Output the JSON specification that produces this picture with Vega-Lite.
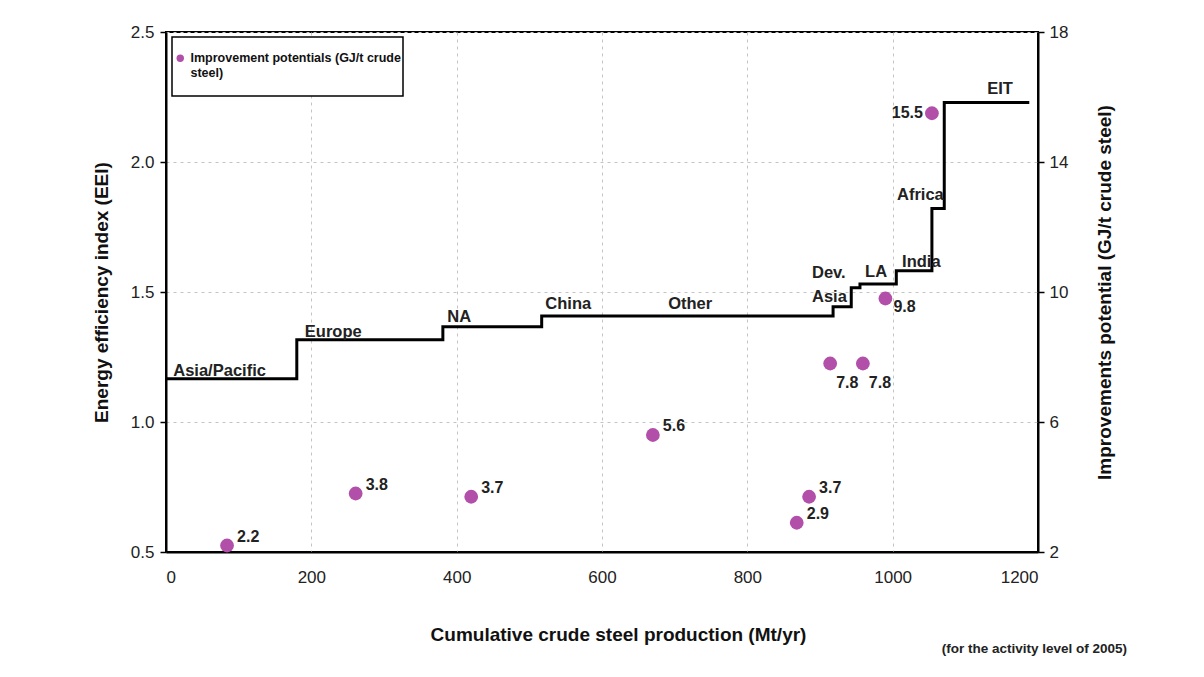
{
  "$schema": "https://vega.github.io/schema/vega-lite/v6.json",
  "width": 872,
  "height": 520,
  "autosize": {"type": "none"},
  "padding": {"left": 166, "top": 32, "right": 166, "bottom": 125},
  "background": "white",
  "config": {
    "view": {"stroke": "black", "strokeWidth": 2},
    "font": "Liberation Sans",
    "legend": {"strokeWidth": 1.5},
    "axis": {
      "labelFont": "Liberation Sans",
      "labelFontSize": 17,
      "labelColor": "#222222",
      "titleFont": "Liberation Sans",
      "titleFontSize": 19,
      "titleFontWeight": "bold",
      "titleColor": "#111111",
      "domainColor": "black",
      "domainWidth": 2,
      "tickColor": "black",
      "tickWidth": 1.5,
      "gridColor": "#c4c4c4",
      "gridDash": [3, 4],
      "gridWidth": 1
    }
  },
  "title": {
    "text": "(for the activity level of 2005)",
    "orient": "bottom",
    "anchor": "end",
    "frame": "group",
    "dx": 89,
    "offset": -2,
    "font": "Liberation Sans",
    "fontSize": 13.5,
    "fontWeight": "bold",
    "color": "#222222"
  },
  "datasets": {
    "steps": [
      {"mt": 0, "eei": 1.166},
      {"mt": 180, "eei": 1.316},
      {"mt": 381, "eei": 1.366},
      {"mt": 517, "eei": 1.408},
      {"mt": 918, "eei": 1.443},
      {"mt": 943, "eei": 1.516},
      {"mt": 955, "eei": 1.531},
      {"mt": 1005, "eei": 1.582},
      {"mt": 1054, "eei": 1.821},
      {"mt": 1071, "eei": 2.229},
      {"mt": 1188, "eei": 2.229}
    ],
    "regions": [
      {"region": "Asia/Pacific", "mt": 10, "eei": 1.197},
      {"region": "Europe", "mt": 191, "eei": 1.347},
      {"region": "NA", "mt": 387, "eei": 1.405},
      {"region": "China", "mt": 522, "eei": 1.455},
      {"region": "Other", "mt": 691, "eei": 1.455},
      {"region": "Dev.", "mt": 889, "eei": 1.574},
      {"region": "Asia", "mt": 889, "eei": 1.482},
      {"region": "LA", "mt": 962, "eei": 1.578},
      {"region": "India", "mt": 1013, "eei": 1.617},
      {"region": "Africa", "mt": 1006, "eei": 1.874},
      {"region": "EIT", "mt": 1130, "eei": 2.279}
    ],
    "potentials": [
      {"mt": 84, "gj": 2.2},
      {"mt": 261, "gj": 3.8},
      {"mt": 420, "gj": 3.7},
      {"mt": 670, "gj": 5.6},
      {"mt": 868, "gj": 2.9},
      {"mt": 885, "gj": 3.7},
      {"mt": 914, "gj": 7.8},
      {"mt": 959, "gj": 7.8},
      {"mt": 990, "gj": 9.8},
      {"mt": 1054, "gj": 15.5}
    ]
  },
  "layer": [
    {
      "layer": [
        {
          "data": {"name": "steps"},
          "mark": {"type": "line", "interpolate": "step-after", "color": "black", "strokeWidth": 3},
          "encoding": {
            "x": {
              "field": "mt", "type": "quantitative",
              "scale": {"domain": [0, 1200], "nice": false},
              "axis": {
                "values": [0, 200, 400, 600, 800, 1000, 1200],
                "format": "d",
                "ticks": false,
                "labelPadding": 17,
                "grid": true,
                "domain": true,
                "title": "Cumulative crude steel production (Mt/yr)",
                "titleX": 452,
                "titleY": 82,
                "titleBaseline": "middle",
                "titleAnchor": "middle"
              }
            },
            "y": {
              "field": "eei", "type": "quantitative",
              "scale": {"domain": [0.5, 2.5], "nice": false, "zero": false},
              "axis": {
                "orient": "left",
                "values": [0.5, 1.0, 1.5, 2.0, 2.5],
                "format": ".1f",
                "tickSize": 6,
                "labelPadding": 6,
                "grid": true,
                "title": "Energy efficiency index (EEI)",
                "titleX": -65,
                "titleY": 260,
                "titleAngle": -90,
                "titleAlign": "center",
                "titleBaseline": "middle"
              }
            }
          }
        },
        {
          "data": {"name": "regions"},
          "mark": {"type": "text", "align": "left", "baseline": "middle", "fontSize": 16.5, "fontWeight": "bold", "color": "#222222"},
          "encoding": {
            "x": {"field": "mt", "type": "quantitative"},
            "y": {"field": "eei", "type": "quantitative"},
            "text": {"field": "region"}
          }
        }
      ]
    },
    {
      "data": {"name": "potentials"},
      "layer": [
        {
          "mark": {"type": "circle", "size": 190, "opacity": 1},
          "encoding": {
            "x": {"field": "mt", "type": "quantitative"},
            "y": {
              "field": "gj", "type": "quantitative",
              "scale": {"domain": [2, 18], "nice": false, "zero": false},
              "axis": {
                "orient": "right",
                "values": [2, 6, 10, 14, 18],
                "tickSize": 6,
                "labelPadding": 5,
                "grid": false,
                "title": "Improvements potential (GJ/t crude steel)",
                "titleX": 66,
                "titleY": 260,
                "titleAngle": -90,
                "titleAlign": "center",
                "titleBaseline": "middle"
              }
            },
            "color": {
              "datum": "Improvement potentials (GJ/t crude steel)",
              "type": "nominal",
              "scale": {"range": ["#B14FA9"]},
              "legend": {
                "orient": "none",
                "legendX": 6,
                "legendY": 5,
                "title": " ",
                "titleFontSize": 8,
                "titlePadding": 5,
                "strokeColor": "black",
                "fillColor": "white",
                "padding": 2,
                "symbolType": "circle",
                "symbolSize": 55,
                "symbolStrokeWidth": 0,
                "labelFont": "Liberation Sans",
                "labelFontWeight": "bold",
                "labelFontSize": 12.5,
                "labelColor": "#111111",
                "labelLimit": 400,
                "labelOffset": 4,
                "labelBaseline": "middle",
                "labelExpr": "['Improvement potentials (GJ/t crude', 'steel)', '']"
              }
            }
          }
        },
        {
          "transform": [{"filter": "datum.gj != 7.8 && datum.gj != 9.8 && datum.gj != 15.5"}],
          "mark": {"type": "text", "align": "left", "baseline": "middle", "dx": 10, "dy": -9, "fontSize": 16, "fontWeight": "bold", "color": "#222222"},
          "encoding": {
            "x": {"field": "mt", "type": "quantitative"},
            "y": {"field": "gj", "type": "quantitative"},
            "text": {"field": "gj", "type": "quantitative", "format": ".1f"}
          }
        },
        {
          "transform": [{"filter": "datum.gj == 7.8"}],
          "mark": {"type": "text", "align": "left", "baseline": "middle", "dx": 6, "dy": 19, "fontSize": 16, "fontWeight": "bold", "color": "#222222"},
          "encoding": {
            "x": {"field": "mt", "type": "quantitative"},
            "y": {"field": "gj", "type": "quantitative"},
            "text": {"field": "gj", "type": "quantitative", "format": ".1f"}
          }
        },
        {
          "transform": [{"filter": "datum.gj == 9.8"}],
          "mark": {"type": "text", "align": "left", "baseline": "middle", "dx": 8, "dy": 8, "fontSize": 16, "fontWeight": "bold", "color": "#222222"},
          "encoding": {
            "x": {"field": "mt", "type": "quantitative"},
            "y": {"field": "gj", "type": "quantitative"},
            "text": {"field": "gj", "type": "quantitative", "format": ".1f"}
          }
        },
        {
          "transform": [{"filter": "datum.gj == 15.5"}],
          "mark": {"type": "text", "align": "right", "baseline": "middle", "dx": -9, "dy": 0, "fontSize": 16, "fontWeight": "bold", "color": "#222222"},
          "encoding": {
            "x": {"field": "mt", "type": "quantitative"},
            "y": {"field": "gj", "type": "quantitative"},
            "text": {"field": "gj", "type": "quantitative", "format": ".1f"}
          }
        }
      ]
    }
  ],
  "resolve": {"scale": {"y": "independent"}, "axis": {"y": "independent"}}
}
